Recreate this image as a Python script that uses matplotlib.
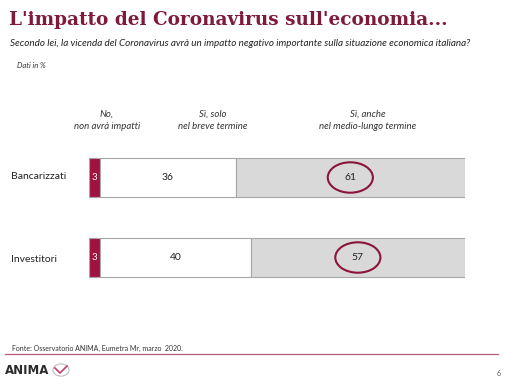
import matplotlib.pyplot as plt
from matplotlib.patches import Ellipse, Circle

# data (percentages)
groups = ["Bancarizzati", "Investitori"]
no_impact = [3, 3]
short_term = [36, 40]
long_term = [61, 57]
headers = ["No,\nnon avrà impatti", "Sì, solo\nnel breve termine", "Sì, anche\nnel medio-lungo termine"]

RED = "#A0123F"
DARK = "#7E1A3A"
GREY = "#D9D9D9"
EDGE = "#A6A6A6"

W, H = 506, 387
fig = plt.figure(figsize=(W / 100, H / 100), dpi=100)
plt.rcParams['font.family'] = ['Lato', 'DejaVu Sans']

def px(x, y):
    return x / W, 1 - y / H

# title block
fig.text(*px(9, 20), "L'impatto del Coronavirus sull'economia...", family="DejaVu Serif",
         weight="bold", fontsize=13.3, color=DARK, va="center", ha="left")
fig.text(*px(10, 43), "Secondo lei, la vicenda del Coronavirus avrà un impatto negativo importante "
         "sulla situazione economica italiana?", style="italic", fontsize=7.1, color="#222222",
         va="center", ha="left")
fig.text(*px(17, 65), "Dati in %", style="italic", fontsize=5.5, color="#333333", va="center")

# bars
ax = fig.add_axes([89 / W, 1 - 290 / H, 376 / W, 140 / H])
ax.set_xlim(0, 100)
ax.set_ylim(1 + 32.5 / 80, -27.5 / 80)
ax.axis("off")

ypos = [0, 1]
h = 39 / 80
ax.barh(ypos, no_impact, height=h, color=RED, edgecolor=EDGE, linewidth=0.8)
ax.barh(ypos, short_term, left=no_impact, height=h, color="white", edgecolor=EDGE, linewidth=0.8)
left2 = [a + b for a, b in zip(no_impact, short_term)]
ax.barh(ypos, long_term, left=left2, height=h, color=GREY, edgecolor=EDGE, linewidth=0.8)

for i, y in enumerate(ypos):
    ax.text(no_impact[i] / 2, y, str(no_impact[i]), color="white", fontsize=7,
            ha="center", va="center")
    ax.text(no_impact[i] + short_term[i] / 2, y, str(short_term[i]), color="#222222",
            fontsize=7.5, ha="center", va="center")
    cx = left2[i] + long_term[i] / 2
    ax.text(cx, y, str(long_term[i]), color="#222222", fontsize=7.5, ha="center", va="center")
    ax.add_patch(Ellipse((cx, y), 12, 0.38, fill=False, edgecolor="#8B1538", linewidth=1.5))

for g, yl in zip(groups, [177, 260]):
    fig.text(*px(11, yl), g, fontsize=7.5, color="#222222", ha="left", va="center")

# column headers
for xh, txt in zip([107, 213, 368], headers):
    fig.text(*px(xh, 120), txt, style="italic", fontsize=6.9, color="#333333",
             ha="center", va="center", linespacing=1.45)

# footer
fig.text(*px(12, 348), "Fonte: Osservatorio ANIMA, Eumetra Mr, marzo  2020.", fontsize=5,
         color="#333333", va="center")
fig.add_artist(plt.Line2D([5 / W, 498 / W], [1 - 354 / H] * 2, color="#B85C78", linewidth=0.9))
fig.text(*px(5, 371), "ANIMA", fontsize=8.5, weight="bold", color="#2b2b2b", va="center",
         family="DejaVu Sans")
fig.add_artist(Circle(px(61, 370), 8 / W, transform=fig.transFigure, fill=False,
                      edgecolor="#BBBBBB", linewidth=0.8))
fig.add_artist(plt.Line2D([55 / W, 60 / W, 67 / W], [1 - 368 / H, 1 - 373 / H, 1 - 366 / H],
                          color="#C0406A", linewidth=1.2))
fig.text(*px(497, 373), "6", fontsize=5, color="#555555", va="center")

fig.savefig("out.png", dpi=100)
